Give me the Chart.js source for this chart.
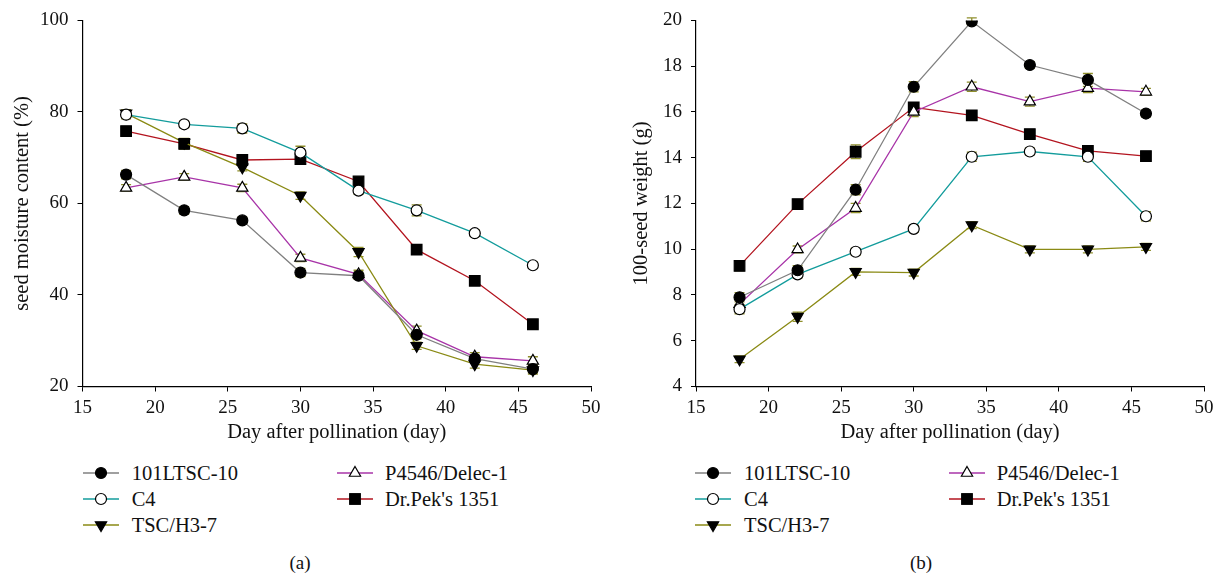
<!DOCTYPE html>
<html><head><meta charset="utf-8">
<script src="https://cdn.jsdelivr.net/npm/chart.js@4.4.1/dist/chart.umd.min.js"></script>
<style>
body{margin:0;background:#fff;width:1223px;height:578px;overflow:hidden;position:relative;font-family:"Liberation Serif","DejaVu Serif",serif;color:#111;}
canvas{position:absolute;top:0}
.leg{position:absolute;font-size:20.5px;white-space:nowrap;line-height:26px;height:26px}
.leg svg{position:absolute;left:0;top:0}
.leg span{position:absolute;top:0}
.cap{position:absolute;font-size:19px;line-height:22px;transform:translateX(-50%)}
</style></head>
<body>
<canvas id="cA" width="611" height="450" style="left:0;width:611px;height:450px"></canvas>
<canvas id="cB" width="612" height="450" style="left:611px;width:612px;height:450px"></canvas>
<div id="legends"></div>
<div class="cap" style="left:300px;top:552px">(a)</div>
<div class="cap" style="left:921px;top:552px">(b)</div>
<script>
// ---- data ----
const days = [18, 22, 26, 30, 34, 38, 42, 46];
const seriesNames = ["101LTSC-10", "C4", "TSC/H3-7", "P4546/Delec-1", "Dr.Pek's 1351"];

// (a) seed moisture content (%)
const moist101 = [66.3, 58.5, 56.3, 44.9, 44.2, 31.3, 26.1, 23.8];
const moistC4  = [79.4, 77.3, 76.4, 71.1, 62.8, 58.5, 53.5, 46.5];
const moistTSC = [79.7, 73.3, 67.9, 61.7, 49.4, 28.9, 24.9, 23.6];
const moistP45 = [63.4, 65.8, 63.4, 48.1, 44.5, 32.2, 26.5, 25.6];
const moistDr  = [75.8, 73.0, 69.5, 69.7, 64.8, 49.9, 43.1, 33.6];
const moistErr101 = [0.9, 0.8, 0.7, 0.9, 0.8, 0.9, 0.7, 0.8];
const moistErrC4  = [0.9, 0.7, 1.0, 1.4, 0.8, 1.2, 0.7, 0.7];
const moistErrTSC = [0.8, 0.9, 0.8, 0.8, 1.0, 0.8, 0.9, 0.9];
const moistErrP45 = [0.7, 0.7, 0.8, 0.8, 0.9, 1.0, 0.9, 0.9];
const moistErrDr  = [0.8, 1.1, 0.9, 0.9, 1.0, 0.8, 0.8, 0.9];

// (b) 100-seed weight (g)
const wt101 = [7.9, 9.08, 12.6, 17.1, 19.96, 18.05, 17.4, 15.93];
const wtC4  = [7.38, 8.9, 9.89, 10.89, 14.04, 14.27, 14.04, 11.44];
const wtTSC = [5.19, 7.05, 9.01, 8.98, 11.05, 9.99, 9.99, 10.1];
const wtP45 = [7.6, 9.99, 11.8, 16.0, 17.1, 16.45, 17.04, 16.88];
const wtDr  = [9.27, 11.97, 14.26, 16.2, 15.85, 15.03, 14.3, 14.07];
const wtErr101 = [0.2, 0.2, 0.22, 0.22, 0.15, 0.15, 0.28, 0.15];
const wtErrC4  = [0.2, 0.15, 0.15, 0.15, 0.2, 0.15, 0.2, 0.2];
const wtErrTSC = [0.15, 0.2, 0.15, 0.15, 0.15, 0.15, 0.15, 0.15];
const wtErrP45 = [0.25, 0.15, 0.2, 0.2, 0.2, 0.2, 0.2, 0.15];
const wtErrDr  = [0.2, 0.15, 0.3, 0.2, 0.15, 0.15, 0.15, 0.15];

const xTicks = [15, 20, 25, 30, 35, 40, 45, 50];
const yTicksA = [20, 40, 60, 80, 100];
const yTicksB = [4, 6, 8, 10, 12, 14, 16, 18, 20];

// ---- styles ----
const styles = [
  {color:'#808080', point:'circle',   fill:'#000', r:5.5, rot:0},
  {color:'#139c9c', point:'circle',   fill:'#fff', r:5.5, rot:0},
  {color:'#8a8a14', point:'triangle', fill:'#000', r:6.5, rot:180},
  {color:'#a834a8', point:'triangle', fill:'#fff', r:6.5, rot:0},
  {color:'#b3141f', point:'rect',     fill:'#000', r:7.5, rot:0}
];
const errColor = '#8f8f2c';
const FONT = '"Liberation Serif","DejaVu Serif",serif';

function makeDatasets(vals, errs){
  return vals.map((arr, i) => ({
    label: seriesNames[i],
    data: days.map((d, j) => ({x: d, y: arr[j]})),
    errors: errs[i],
    borderColor: styles[i].color,
    borderWidth: 1.3,
    pointStyle: styles[i].point,
    pointRotation: styles[i].rot,
    pointRadius: styles[i].r,
    pointHoverRadius: styles[i].r,
    pointBackgroundColor: styles[i].fill,
    pointBorderColor: '#000',
    pointBorderWidth: 1.2,
    fill: false,
    tension: 0
  }));
}

const errorBars = {
  id: 'errorBars',
  beforeDatasetsDraw(chart){
    const {ctx, scales:{x, y}} = chart;
    ctx.save();
    ctx.strokeStyle = errColor;
    ctx.lineWidth = 1.3;
    chart.data.datasets.forEach(ds => {
      ds.data.forEach((p, j) => {
        const e = ds.errors[j];
        const px = x.getPixelForValue(p.x);
        const y1 = y.getPixelForValue(p.y + e), y2 = y.getPixelForValue(p.y - e);
        ctx.beginPath();
        ctx.moveTo(px, y1); ctx.lineTo(px, y2);
        ctx.moveTo(px - 5, y1); ctx.lineTo(px + 5, y1);
        ctx.moveTo(px - 5, y2); ctx.lineTo(px + 5, y2);
        ctx.stroke();
      });
    });
    ctx.restore();
  }
};

function makeChart(id, datasets, yMin, yMax, yStep, yTitle, yW, padRight, yTitlePad){
  return new Chart(document.getElementById(id), {
    type: 'line',
    data: {datasets},
    plugins: [errorBars],
    options: {
      responsive: false,
      animation: false,
      devicePixelRatio: 1,
      layout: {padding: {left: 0, right: padRight, top: 17.5, bottom: 0}},
      plugins: {legend: {display: false}, tooltip: {enabled: false}},
      scales: {
        x: {
          type: 'linear', min: 15, max: 50,
          afterBuildTicks: s => { s.ticks = xTicks.map(v => ({value: v})); },
          afterFit: s => { s.height = 63.5; },
          grid: {drawOnChartArea: false, drawTicks: true, tickLength: 5, color: '#000', lineWidth: 1},
          border: {display: true, color: '#000', width: 1.2},
          ticks: {color: '#111', font: {family: FONT, size: 19}, padding: 5, maxRotation: 0},
          title: {display: true, text: 'Day after pollination (day)', color: '#111', font: {family: FONT, size: 20.5}, padding: {top: 0, bottom: 5}}
        },
        y: {
          min: yMin, max: yMax,
          afterBuildTicks: s => { s.ticks = (yMin === 20 ? yTicksA : yTicksB).map(v => ({value: v})); },
          afterFit: s => { s.width = yW; },
          grid: {drawOnChartArea: false, drawTicks: true, tickLength: 5, color: '#000', lineWidth: 1},
          border: {display: true, color: '#000', width: 1.2},
          ticks: {color: '#111', font: {family: FONT, size: 19}, padding: 9},
          title: {display: true, text: yTitle, color: '#111', font: {family: FONT, size: 20.5}, padding: {top: yTitlePad, bottom: 0}}
        }
      }
    }
  });
}

makeChart('cA', makeDatasets([moist101, moistC4, moistTSC, moistP45, moistDr],
  [moistErr101, moistErrC4, moistErrTSC, moistErrP45, moistErrDr]),
  20, 100, 20, 'seed moisture content (%)', 82.5, 20, 10);
makeChart('cB', makeDatasets([wt101, wtC4, wtTSC, wtP45, wtDr],
  [wtErr101, wtErrC4, wtErrTSC, wtErrP45, wtErrDr]),
  4, 20, 2, '100-seed weight (g)', 85, 19, 18);

// ---- legends ----
function markerSVG(st, cx, cy){
  const r = st.r;
  if (st.point === 'circle') return `<circle cx="${cx}" cy="${cy}" r="${r}" fill="${st.fill}" stroke="#000" stroke-width="1.2"/>`;
  if (st.point === 'rect') { const s = r * Math.SQRT1_2; return `<rect x="${cx-s}" y="${cy-s}" width="${2*s}" height="${2*s}" fill="${st.fill}" stroke="#000" stroke-width="1.2"/>`; }
  const pts = [0,120,240].map(a => { const rad = (a + st.rot) * Math.PI/180; return `${cx + Math.sin(rad)*r},${cy - Math.cos(rad)*r}`; }).join(' ');
  return `<polygon points="${pts}" fill="${st.fill}" stroke="#000" stroke-width="1.2"/>`;
}
const legendLayouts = [
  {cols: [82.7, 336.7], textOff: [49, 48.3]},
  {cols: [695, 949], textOff: [49, 47.7]}
];
const rowY = [472.7, 499, 524.5];
const placement = [[0,0],[0,1],[0,2],[1,0],[1,1]];
let html = '';
legendLayouts.forEach(L => {
  seriesNames.forEach((name, i) => {
    const [c, r] = placement[i];
    const st = styles[i];
    const left = L.cols[c], top = rowY[r] - 13;
    html += `<div class="leg" style="left:${left}px;top:${top}px"><svg width="40" height="26"><line x1="0" y1="13" x2="36" y2="13" stroke="${st.color}" stroke-width="1.3"/>${markerSVG(st, 18, 13)}</svg><span style="left:${L.textOff[c]}px">${name.replace("'", "&#39;")}</span></div>`;
  });
});
document.getElementById('legends').innerHTML = html;
</script>
</body></html>
